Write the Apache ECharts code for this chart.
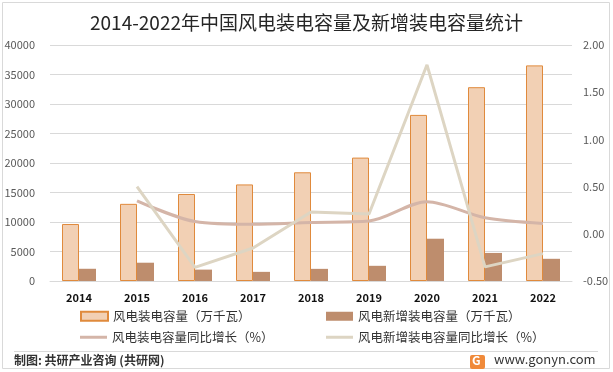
<!DOCTYPE html>
<html>
<head>
<meta charset="utf-8">
<script src="https://cdn.jsdelivr.net/npm/echarts@6/dist/echarts.min.js"></script>
<style>html,body{margin:0;padding:0;background:#fff}#c{width:613px;height:372px}</style>
</head>
<body>
<div id="c"></div>
<script>
var years = ['2014','2015','2016','2017','2018','2019','2020','2021','2022'];
var capacity = [9657, 13075, 14747, 16367, 18426, 20915, 28153, 32848, 36544];
var newCapacity = [2072, 3100, 1930, 1550, 2059, 2574, 7167, 4757, 3763];
var capacityGrowth = [null, 0.35, 0.13, 0.10, 0.12, 0.135, 0.34, 0.17, 0.11];
var newGrowth = [null, 0.50, -0.355, -0.15, 0.23, 0.21, 1.79, -0.35, -0.21];
var leftTicks = {min: 0, max: 40000, interval: 5000};
var rightTicks = {min: -0.5, max: 2, interval: 0.5};
var names = ['风电装电容量（万千瓦）','风电新增装电容量（万千瓦）','风电装电容量同比增长（%）','风电新增装电容量同比增长（%）'];

var font = '"Noto Sans CJK SC", "Noto Sans", sans-serif';
var chart = echarts.init(document.getElementById('c'), null, {renderer: 'canvas'});
function lg(name, left, top, h) {
  return {
    data: [{name: name, icon: 'rect'}], left: left, top: top,
    itemWidth: 27, itemHeight: h, itemGap: 4,
    textStyle: {fontSize: 12.5, color: '#333', fontFamily: font}, padding: 0
  };
}
chart.setOption({
  animation: false,
  title: {
    text: '2014-2022年中国风电装电容量及新增装电容量统计',
    left: 'center', top: 8,
    textStyle: {fontSize: 19, fontWeight: 'normal', color: '#262626', fontFamily: font}
  },
  legend: [
    lg(names[0], 80, 310, 9),
    lg(names[1], 326, 310, 9),
    lg(names[2], 80, 331, 3),
    lg(names[3], 326, 331, 3)
  ],
  grid: {left: 50, right: 41, top: 45, bottom: 91},
  xAxis: {
    type: 'category', data: years,
    axisLine: {show: true, lineStyle: {color: '#d9d9d9'}},
    axisTick: {show: false},
    axisLabel: {fontSize: 11, fontWeight: 'bold', color: '#111', margin: 11, fontFamily: font}
  },
  yAxis: [
    {
      type: 'value', min: leftTicks.min, max: leftTicks.max, interval: leftTicks.interval,
      axisLine: {show: false}, axisTick: {show: false},
      splitLine: {lineStyle: {color: '#d9d9d9'}},
      axisLabel: {fontSize: 11, color: '#595959', margin: 15, fontFamily: font,
        formatter: function (v) { return String(v); }}
    },
    {
      type: 'value', min: rightTicks.min, max: rightTicks.max, interval: rightTicks.interval,
      axisLine: {show: false}, axisTick: {show: false}, splitLine: {show: false},
      axisLabel: {fontSize: 11, color: '#595959', margin: 11, fontFamily: font,
        formatter: function (v) { return v.toFixed(2); }}
    }
  ],
  series: [
    {name: names[0], type: 'bar', data: capacity, barWidth: 17, barGap: '0%',
      itemStyle: {color: '#F2D0B4', borderColor: '#E08A3C', borderWidth: 1}},
    {name: names[1], type: 'bar', data: newCapacity, barWidth: 17, barGap: '0%',
      itemStyle: {color: '#BE8D6D'}},
    {name: names[2], type: 'line', yAxisIndex: 1, data: capacityGrowth, smooth: 0.3,
      symbol: 'none', lineStyle: {width: 3, color: '#D4B5A8'}, itemStyle: {color: '#D4B5A8'}},
    {name: names[3], type: 'line', yAxisIndex: 1, data: newGrowth,
      symbol: 'none', lineStyle: {width: 3, color: '#DDD5C3'}, itemStyle: {color: '#DDD5C3'}}
  ],
  graphic: [
    {type: 'rect', shape: {x: 2.5, y: 2.5, width: 607, height: 366},
      style: {fill: 'none', stroke: '#d9d9d9', lineWidth: 1}, silent: true},
    {type: 'line', shape: {x1: 14, y1: 351.5, x2: 598, y2: 351.5},
      style: {stroke: '#d9d9d9', lineWidth: 1}},
    {type: 'text', left: 14, top: 354,
      style: {text: '制图: 共研产业咨询 (共研网)', fontSize: 12, fontWeight: 'bold', fill: '#333', fontFamily: font}},
    {type: 'rect', shape: {x: 470, y: 355, width: 15, height: 14, r: 2},
      style: {fill: '#F08A3A'}},
    {type: 'text', left: 472, top: 354,
      style: {text: 'G', fontSize: 12, fontWeight: 'bold', fill: '#fff', fontFamily: font}},
    {type: 'text', left: 494, top: 353,
      style: {text: 'www.gonyn.com', fontSize: 13, fill: '#333', fontFamily: font}}
  ]
});
</script>
</body>
</html>
